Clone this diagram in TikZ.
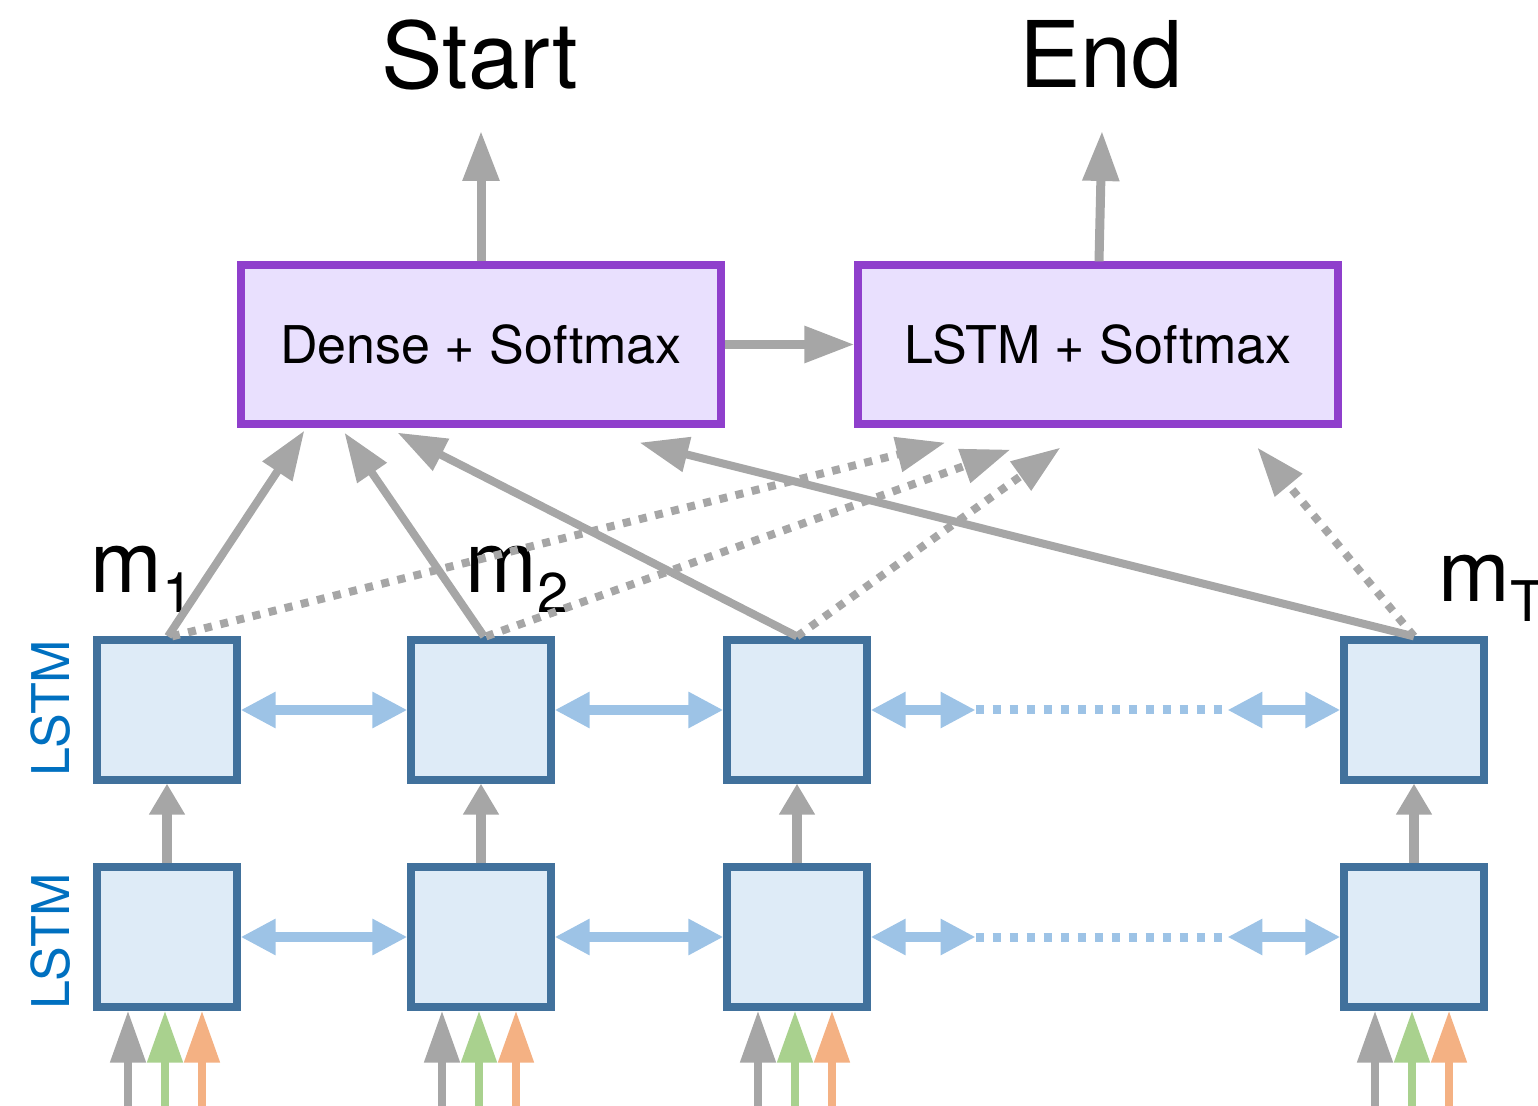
\documentclass[tikz,border=0pt]{standalone}
\usepackage{fontspec}
\setmainfont{TeX Gyre Heros}
\usetikzlibrary{arrows.meta,calc}

\definecolor{linegray}{RGB}{166,166,166}
\definecolor{cellblue}{RGB}{65,113,156}
\definecolor{cellfill}{RGB}{222,235,247}
\definecolor{linkblue}{RGB}{157,195,230}
\definecolor{headpurple}{RGB}{143,63,204}
\definecolor{headfill}{RGB}{233,224,254}
\definecolor{labelblue}{RGB}{0,112,192}
\definecolor{ingreen}{RGB}{169,209,142}
\definecolor{inorange}{RGB}{244,177,131}

\begin{document}
\begin{tikzpicture}[x=0.5pt,y=-0.5pt,
  cell/.style={draw=cellblue,fill=cellfill,line width=3.6pt,
    minimum width=70pt,minimum height=70pt,inner sep=0pt},
  head/.style={draw=headpurple,fill=headfill,line width=3.6pt,
    minimum width=240pt,minimum height=79.5pt,inner sep=0pt,
    font=\fontsize{26}{26}\selectfont},
  feed/.style={draw=linegray,line width=4pt,
    -{Triangle[length=24.5pt,width=17pt]}},
  feeddot/.style={feed,dash pattern=on 4pt off 4.3pt},
  up/.style={draw=linegray,line width=4.5pt,
    -{Triangle[length=25pt,width=17.5pt]}},
  stack/.style={draw=linegray,line width=5pt,
    -{Triangle[length=15.5pt,width=17pt]}},
  inarrow/.style={line width=4pt,-{Triangle[length=26pt,width=17pt]}},
  link/.style={draw=linkblue,line width=4.8pt,
    {Triangle[length=17.5pt,width=17pt]}-{Triangle[length=17.5pt,width=17pt]}},
  linkdot/.style={draw=linkblue,line width=4.5pt,dash pattern=on 4pt off 4.5pt},
  title/.style={font=\fontsize{46}{46}\selectfont,inner sep=0pt},
  mlabel/.style={font=\fontsize{43}{43}\selectfont,inner sep=0pt,anchor=base west},
  layer/.style={font=\fontsize{26}{26}\selectfont,text=labelblue,rotate=90,inner sep=0pt},
]
\useasboundingbox (0,0) rectangle (1538,1106);

% output heads
\node[head] (dense) at (481,344.5) {Dense + Softmax};
\node[head] (lsm) at (1098,344.5) {LSTM + Softmax};

% titles and their arrows
\node[title] (start) at (480,55) {Start};
\node[title] (end) at (1101,55) {End};
\coordinate (starttip) at (481,131);
\coordinate (endtip) at (1102,131);
\draw[up] (dense.north) -- (starttip);
\draw[up] ([xshift=0.5pt]lsm.north) -- (endtip);
\draw[up] (dense.east) -- (lsm.west);

% two stacked LSTM layers
\foreach \i/\x in {1/167,2/481,3/797,4/1414}{
  \node[cell] (a\i) at (\x,710) {};
  \node[cell] (b\i) at (\x,937) {};
  \draw[stack] (b\i.north) -- (a\i.south);
  % three input streams per time step
  \coordinate (g\i) at (\x-39,1106);
  \coordinate (v\i) at (\x-2,1106);
  \coordinate (o\i) at (\x+35,1106);
  \draw[inarrow,draw=linegray,fill=linegray] (g\i) -- ($(b\i.south)+(-39,0)$);
  \draw[inarrow,draw=ingreen,fill=ingreen] (v\i) -- ($(b\i.south)+(-2,0)$);
  \draw[inarrow,draw=inorange,fill=inorange] (o\i) -- ($(b\i.south)+(35,0)$);
}

% layer labels
\node[layer] (lay1) at (51,708) {LSTM};
\node[layer] (lay2) at (51,941) {LSTM};

% bidirectional links
\foreach \r in {a,b}{
  \draw[link] (\r1.east) -- (\r2.west);
  \draw[link] (\r2.east) -- (\r3.west);
  \coordinate (\r p) at ($(\r3.east)+(105,0)$);
  \coordinate (\r q) at ($(\r4.west)+(-113,0)$);
  \draw[link] (\r3.east) -- (\r p);
  \draw[linkdot] (\r p) -- (\r q);
  \draw[link] (\r q) -- (\r4.west);
}

% memory labels
\node[mlabel] (m1) at (90,593) {m\raisebox{-10pt}{\fontsize{28}{28}\selectfont 1}};
\node[mlabel] (m2) at (465,593) {m\raisebox{-10pt}{\fontsize{28}{28}\selectfont 2}};
\node[mlabel] (mT) at (1438,602) {m\raisebox{-10pt}{\fontsize{28}{28}\selectfont T}};

% attention links to the start head
\draw[feed] ([xshift=0.5pt]a1.north) -- ($(dense.south west)+(67,3)$);
\draw[feed] ([xshift=1.5pt]a2.north) -- ($(dense.south west)+(107,5)$);
\draw[feed] (a3.north) -- ($(dense.south west)+(160,5)$);
\draw[feed] (a4.north) -- ($(dense.south west)+(402,15)$);

% attention links to the end head
\draw[feeddot] ([xshift=2.5pt]a1.north) -- ($(lsm.south west)+(91,15)$);
\draw[feeddot] ([xshift=2.5pt]a2.north) -- ($(lsm.south west)+(156,22)$);
\draw[feeddot] (a3.north) -- ($(lsm.south west)+(206,20)$);
\draw[feeddot] (a4.north) -- ($(lsm.south west)+(403,20)$);
\end{tikzpicture}
\end{document}
